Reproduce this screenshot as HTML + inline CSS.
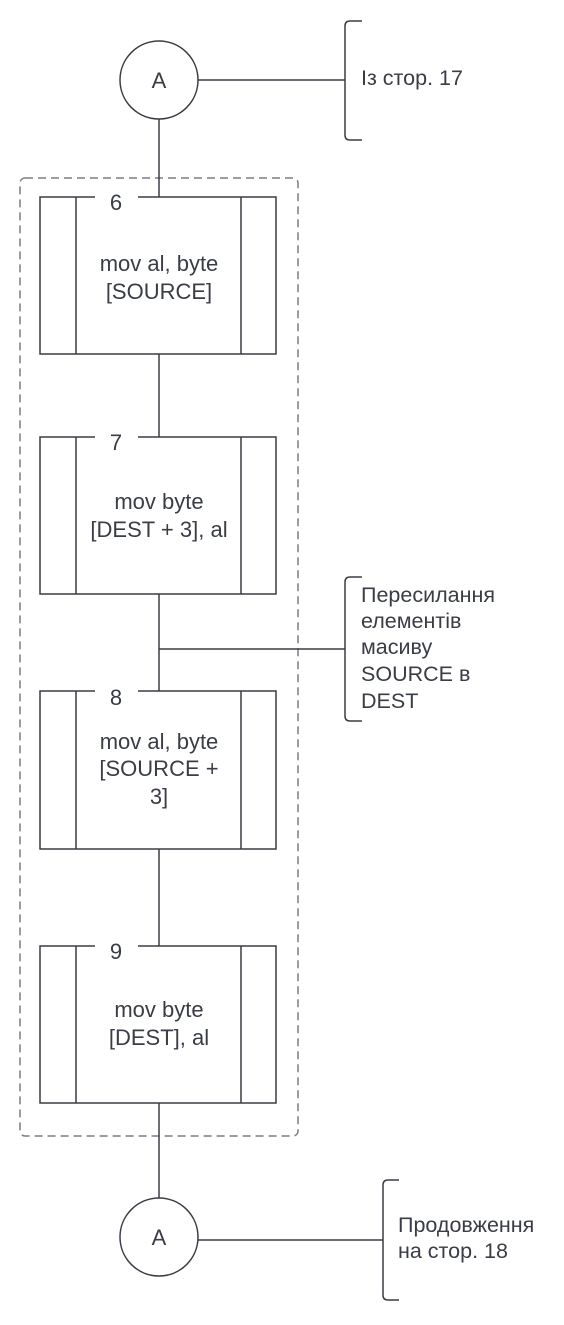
<!DOCTYPE html>
<html><head><meta charset="utf-8"><style>
body{margin:0;background:#fff}
svg text{font-family:"Liberation Sans",sans-serif;fill:#3a3d45}
</style></head><body>
<svg width="564" height="1320" viewBox="0 0 564 1320" xmlns="http://www.w3.org/2000/svg">
<g stroke="#3a3d45" stroke-width="1.5" fill="none">
<rect x="20" y="178" width="278" height="958" rx="5" stroke="#7a7d85" stroke-dasharray="8,5"/>
<line x1="159" y1="119" x2="159" y2="197"/>
<line x1="159" y1="354" x2="159" y2="437"/>
<line x1="159" y1="594" x2="159" y2="691"/>
<line x1="159" y1="849" x2="159" y2="946"/>
<line x1="159" y1="1103" x2="159" y2="1198"/>
<line x1="198" y1="80" x2="345" y2="80"/>
<line x1="159" y1="649" x2="345" y2="649"/>
<line x1="198" y1="1240" x2="383" y2="1240"/>
<circle cx="159" cy="80" r="39" fill="#fff"/>
<circle cx="159" cy="1237" r="39" fill="#fff"/>
<path d="M362 21 H350 Q345 21 345 26 V135 Q345 140 350 140 H362"/>
<path d="M362 577 H350 Q345 577 345 582 V716 Q345 721 350 721 H362"/>
<path d="M399 1180 H388 Q383 1180 383 1185 V1295 Q383 1300 388 1300 H399"/>
</g>
<g stroke="#3a3d45" stroke-width="1.5" fill="#fff">
<path d="M95 197 H40 V354 H276 V197 H138"/><line x1="76" y1="197" x2="76" y2="354"/><line x1="241" y1="197" x2="241" y2="354"/>
<path d="M95 437 H40 V594 H276 V437 H138"/><line x1="76" y1="437" x2="76" y2="594"/><line x1="241" y1="437" x2="241" y2="594"/>
<path d="M95 691 H40 V849 H276 V691 H138"/><line x1="76" y1="691" x2="76" y2="849"/><line x1="241" y1="691" x2="241" y2="849"/>
<path d="M95 946 H40 V1103 H276 V946 H138"/><line x1="76" y1="946" x2="76" y2="1103"/><line x1="241" y1="946" x2="241" y2="1103"/>
</g>
<g font-size="22" text-anchor="middle">
<text x="159" y="88">A</text>
<text x="159" y="1245">A</text>
<text x="116" y="210">6</text>
<text x="116" y="450">7</text>
<text x="116" y="705">8</text>
<text x="116" y="959">9</text>
<text x="159" y="271">mov al, byte</text>
<text x="159" y="299">[SOURCE]</text>
<text x="159" y="509">mov byte</text>
<text x="159" y="537">[DEST + 3], al</text>
<text x="159" y="749">mov al, byte</text>
<text x="159" y="776">[SOURCE +</text>
<text x="159" y="804">3]</text>
<text x="159" y="1017">mov byte</text>
<text x="159" y="1045">[DEST], al</text>
</g>
<g font-size="21.5">
<text x="361" y="85">Із стор. 17</text>
<text x="361" y="602">Пересилання</text>
<text x="361" y="628">елементів</text>
<text x="361" y="654">масиву</text>
<text x="361" y="681">SOURCE в</text>
<text x="361" y="708">DEST</text>
<text x="398" y="1232">Продовження</text>
<text x="398" y="1258">на стор. 18</text>
</g>
</svg>
</body></html>
